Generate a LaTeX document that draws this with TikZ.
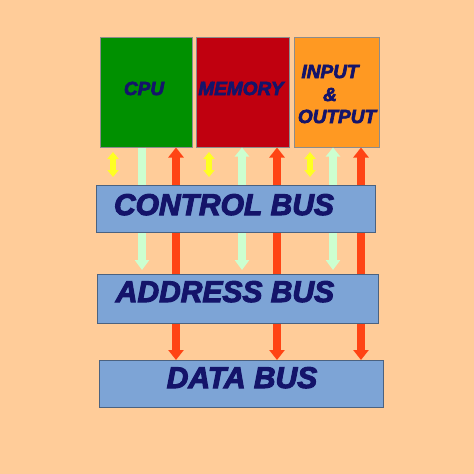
\documentclass[tikz,border=0pt]{standalone}
\usepackage{fontspec}
\setmainfont{Liberation Sans}
\newfontfamily\heavyfont{Liberation Sans Bold Italic}[FakeBold=3.5]
\usetikzlibrary{arrows.meta}
\definecolor{bgpeach}{HTML}{FFCC99}
\definecolor{cpugreen}{HTML}{009000}
\definecolor{memred}{HTML}{C0000F}
\definecolor{iooran}{HTML}{FF9922}
\definecolor{busblue}{HTML}{7DA4D6}
\definecolor{txtnavy}{HTML}{14146A}
\definecolor{arrred}{HTML}{FF4414}
\definecolor{arrgreen}{HTML}{CCFFD0}
\definecolor{arryel}{HTML}{FFFF22}
\tikzset{
  unitbox/.style={draw=black!45, line width=0.5pt, inner sep=0pt, anchor=north west},
  busbox/.style={draw=black!40!busblue, line width=0.6pt, fill=busblue, inner sep=0pt, anchor=north west},
  bigtxt/.style={font=\heavyfont\fontsize{30}{32}\selectfont, text=txtnavy, inner sep=0pt, anchor=base},
  smalltxt/.style={font=\heavyfont\fontsize{19}{21}\selectfont, text=txtnavy, inner sep=0pt, anchor=base},
  redarr/.style={draw=arrred, line width=8pt, {Triangle[width=15pt,length=10pt]}-{Triangle[width=15pt,length=10pt]}},
  greenone/.style={draw=arrgreen, line width=8pt, -{Triangle[width=14pt,length=10pt]}},
  greentwo/.style={draw=arrgreen, line width=8pt, {Triangle[width=14pt,length=9pt]}-{Triangle[width=14pt,length=10pt]}},
  yelarr/.style={draw=arryel, line width=6pt, {Triangle[width=11pt,length=7pt]}-{Triangle[width=11pt,length=7pt]}},
}
\begin{document}
\begin{tikzpicture}[x=1pt,y=-1pt]
\fill[bgpeach] (0,0) rectangle (474,474);
\useasboundingbox (0,0) rectangle (474,474);
% top units
\node[unitbox, fill=cpugreen, minimum width=92pt, minimum height=110pt] (cpu) at (100,37) {};
\node[unitbox, fill=memred, minimum width=93pt, minimum height=110pt] (mem) at (196,37) {};
\node[unitbox, fill=iooran, minimum width=85pt, minimum height=110pt] (io) at (294,37) {};
% bus levels
\coordinate (ctop) at (0,185);
\coordinate (gtip) at (0,270);
\coordinate (dtop) at (0,360);
\coordinate (ytop) at (0,152);
\coordinate (ybot) at (0,177);
% arrows (behind buses)
\draw[redarr] (176,0 |- cpu.south) -- (176,0 |- dtop);
\draw[redarr] (277,0 |- mem.south) -- (277,0 |- dtop);
\draw[redarr] (361,0 |- io.south) -- (361,0 |- dtop);
\draw[greenone] (142,0 |- cpu.south) -- (142,0 |- gtip);
\draw[greentwo] (242,0 |- mem.south) -- (242,0 |- gtip);
\draw[greentwo] (333,0 |- io.south) -- (333,0 |- gtip);
% buses
\node[busbox, minimum width=279pt, minimum height=47pt] (cbus) at (96,185) {};
\node[busbox, minimum width=281pt, minimum height=49pt] (abus) at (97,274) {};
\node[busbox, minimum width=284pt, minimum height=47pt] (dbus) at (99,360) {};
% yellow control arrows
\draw[yelarr] (113,0 |- ytop) -- (113,0 |- ybot);
\draw[yelarr] (209,0 |- ytop) -- (209,0 |- ybot);
\draw[yelarr] (310,0 |- ytop) -- (310,0 |- ybot);
% texts
\node[smalltxt] (tcpu) at (144,95) {CPU};
\node[smalltxt] (tmem) at (241,95) {MEMORY};
\node[smalltxt] (tin) at (330,78) {INPUT};
\node[smalltxt] (tamp) at (330,101) {\&};
\node[smalltxt] (tout) at (337,123) {OUTPUT};
\node[bigtxt] (tc) at (224,215) {CONTROL BUS};
\node[bigtxt] (ta) at (225,302) {ADDRESS BUS};
\node[bigtxt] (td) at (242,388) {DATA BUS};
\end{tikzpicture}
\end{document}
